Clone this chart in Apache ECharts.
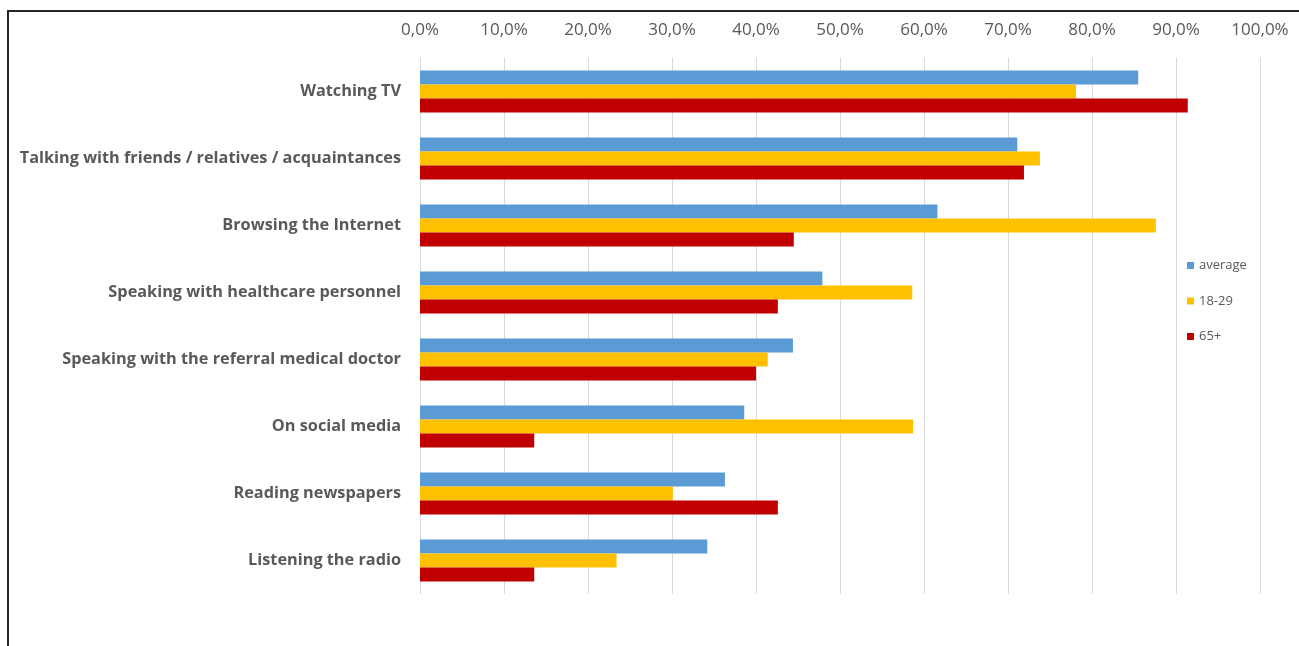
<!DOCTYPE html>
<html>
<head>
<meta charset="utf-8">
<script src="https://cdn.jsdelivr.net/npm/echarts@6/dist/echarts.min.js"></script>
<style>
html,body{margin:0;padding:0;background:#fff;}
#c{width:1299px;height:646px;}
</style>
</head>
<body>
<div id="c"></div>
<script>
var categories = [
  "Watching TV",
  "Talking with friends / relatives / acquaintances",
  "Browsing the Internet",
  "Speaking with healthcare personnel",
  "Speaking with the referral medical doctor",
  "On social media",
  "Reading newspapers",
  "Listening the radio"
];
var seriesNames = ["average", "18-29", "65+"];
var averageValues = [85.5, 71.1, 61.6, 47.9, 44.4, 38.6, 36.3, 34.2];
var youngValues = [78.1, 73.8, 87.6, 58.6, 41.4, 58.7, 30.1, 23.4];
var seniorValues = [91.4, 71.9, 44.5, 42.6, 40.0, 13.6, 42.6, 13.6];
var colors = ["#5b9bd5", "#ffc000", "#c00000"];

var chart = echarts.init(document.getElementById('c'));
var font = 'Open Sans';
function mk(name, data, color) {
  return {
    name: name, type: 'bar', data: data, barWidth: 14, barGap: '0%',
    itemStyle: { color: color },
    emphasis: { disabled: true }
  };
}
chart.setOption({
  animation: false,
  textStyle: { fontFamily: font },
  graphic: [{
    type: 'rect', shape: { x: 8, y: 11, width: 1400, height: 700 },
    style: { fill: 'none', stroke: '#262626', lineWidth: 2 }, silent: true
  }],
  grid: { left: 420, right: 39, top: 58, bottom: 52, containLabel: false },
  legend: {
    orient: 'vertical', left: 1182, top: 254,
    itemWidth: 7, itemHeight: 7, itemGap: 22.5, icon: 'rect',
    data: seriesNames,
    textStyle: { color: '#595959', fontSize: 13, fontFamily: font }
  },
  xAxis: {
    type: 'value', position: 'top', min: 0, max: 100, interval: 10,
    axisLine: { show: false }, axisTick: { show: false },
    splitLine: { lineStyle: { color: '#d9d9d9', width: 1 } },
    axisLabel: {
      color: '#595959', fontSize: 17, margin: 19, fontFamily: font,
      formatter: function (v) { return v.toFixed(1).replace('.', ',') + '%'; }
    }
  },
  yAxis: {
    type: 'category', data: categories, inverse: true,
    axisLine: { show: true, lineStyle: { color: '#d9d9d9' } },
    axisTick: { show: false },
    axisLabel: { color: '#595959', fontSize: 16.3, fontWeight: 'bold', margin: 19, fontFamily: font }
  },
  series: [
    mk(seriesNames[0], averageValues, colors[0]),
    mk(seriesNames[1], youngValues, colors[1]),
    mk(seriesNames[2], seniorValues, colors[2])
  ]
});
</script>
</body>
</html>
